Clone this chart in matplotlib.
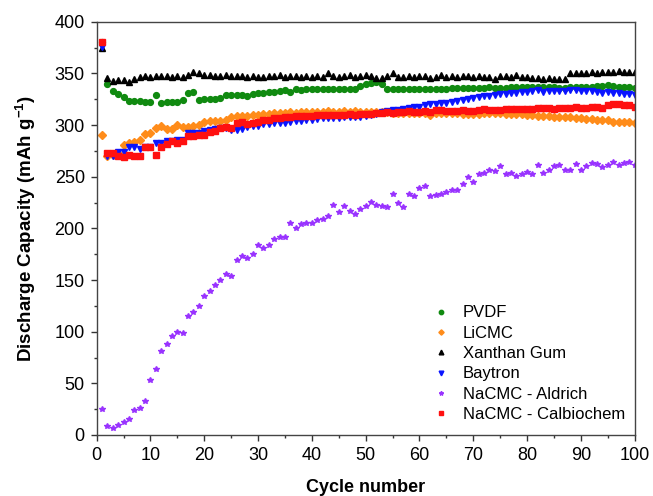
import matplotlib
matplotlib.use("Agg")
import matplotlib.pyplot as plt
from matplotlib.ticker import MultipleLocator

plt.rcParams["font.family"] = ["Liberation Sans", "DejaVu Sans"]
plt.rcParams["mathtext.fontset"] = "custom"
plt.rcParams["mathtext.rm"] = "Liberation Sans"
plt.rcParams["mathtext.bf"] = "Liberation Sans:bold"

cycles = list(range(1, 101))

# values (mAh g-1)
pvdf = [380,
        340, 333, 330, 327, 323, 323, 323, 322, 322,
        329, 321, 322, 322, 322, 324, 331, 332, 324, 325,
        325, 325, 326, 329, 329, 329, 329, 328, 330, 331,
        331, 332, 332, 333, 334, 332, 335, 334, 335, 335,
        335, 335, 335, 335, 335, 335, 335, 335, 338, 340,
        341, 342, 340, 335, 335, 335, 335, 335, 335, 335,
        335, 335, 335, 335, 335, 336, 336, 336, 336, 336,
        336, 336, 337, 336, 336, 336, 337, 337, 337, 337,
        337, 337, 337, 337, 337, 336, 336, 337, 337, 337,
        337, 337, 338, 338, 339, 338, 337, 337, 337, 336]
licmc = [290, 270, 271, 273, 281, 283, 284, 286, 291, 292,
         297, 299, 296, 296, 300, 298, 298, 299, 300, 303,
         304, 304, 304, 305, 308, 309, 309, 309, 310, 310,
         311, 311, 312, 312, 312, 313, 312, 313, 313, 313,
         313, 313, 314, 313, 313, 314, 313, 314, 313, 313,
         313, 313, 313, 313, 312, 312, 312, 312, 312, 312,
         312, 310, 312, 312, 312, 312, 312, 311, 311, 311,
         311, 312, 312, 312, 312, 311, 311, 311, 311, 310,
         310, 309, 309, 309, 308, 308, 308, 308, 307, 307,
         306, 306, 305, 305, 305, 303, 303, 303, 303, 302]
xanthan = [375, 346, 343, 344, 344, 342, 345, 347, 348, 347,
           348, 348, 348, 347, 348, 347, 349, 351, 350, 349,
           349, 348, 348, 349, 348, 348, 348, 347, 348, 347,
           347, 348, 348, 349, 347, 348, 348, 347, 348, 347,
           348, 347, 350, 348, 347, 348, 349, 347, 348, 349,
           348, 346, 346, 348, 350, 347, 347, 348, 347, 348,
           348, 346, 347, 349, 347, 348, 347, 348, 348, 347,
           348, 347, 347, 345, 348, 348, 347, 349, 347, 347,
           346, 346, 345, 346, 345, 345, 345, 350, 350, 350,
           350, 351, 350, 351, 351, 351, 352, 351, 351, 351]
baytron = [376, 270, 270, 274, 274, 279, 279, 277, 279, 279,
           283, 283, 285, 285, 286, 286, 292, 292, 292, 294,
           295, 296, 297, 297, 295, 295, 296, 298, 299, 299,
           301, 301, 302, 302, 302, 303, 304, 304, 305, 305,
           306, 307, 307, 307, 307, 308, 308, 308, 308, 309,
           310, 311, 313, 314, 315, 315, 316, 317, 318, 318,
           319, 320, 320, 321, 321, 322, 323, 324, 325, 326,
           327, 328, 328, 329, 330, 330, 331, 331, 332, 332,
           333, 334, 332, 333, 333, 333, 333, 334, 334, 333,
           333, 333, 332, 331, 332, 331, 331, 330, 330, 329]
aldrich = [25, 9, 7, 9.5, 12.5, 15, 24, 26, 33, 53,
           64, 81, 88, 96, 100, 99, 115, 119, 125, 135,
           139, 145, 150, 156, 154, 169, 173, 171, 175, 184,
           181, 184, 190, 192, 192, 205, 200, 204, 205, 205,
           208, 209, 212, 223, 216, 222, 217, 214, 219, 222,
           226, 223, 222, 221, 233, 225, 221, 233, 231, 239,
           241, 231, 232, 233, 235, 237, 237, 243, 250, 245,
           253, 254, 257, 256, 260, 253, 254, 251, 253, 255,
           253, 261, 254, 257, 260, 261, 257, 257, 262, 257,
           260, 263, 262, 259, 261, 264, 261, 263, 264, 261]
calbiochem = [380, 273, 273, 270, 269, 271, 270, 270, 279, 279,
              271, 279, 282, 285, 283, 285, 289, 289, 290, 290,
              293, 294, 297, 298, 297, 302, 303, 301, 302, 303,
              305, 305, 307, 307, 308, 308, 309, 309, 309, 309,
              310, 310, 310, 310, 310, 310, 311, 310, 311, 311,
              311, 312, 312, 313, 312, 313, 313, 314, 313, 313,
              314, 313, 315, 315, 314, 314, 314, 315, 314, 314,
              315, 316, 315, 315, 315, 316, 316, 316, 316, 316,
              316, 317, 317, 317, 316, 317, 317, 317, 318, 317,
              317, 318, 318, 317, 319, 320, 320, 319, 319, 318]

fig = plt.figure(figsize=(6.53, 4.96), dpi=100)
ax = fig.add_axes([0.148, 0.123, 0.824, 0.833])

ax.plot(cycles, pvdf, "o", color="#108a10", markersize=4.2, label="PVDF")
ax.plot(cycles, licmc, "D", color="#ff8c1a", markersize=3.6, label="LiCMC")
ax.plot(cycles, xanthan, "^", color="black", markersize=4.5, label="Xanthan Gum")
ax.plot(cycles, baytron, "v", color="#0a14ff", markersize=4.5, label="Baytron")
ax.plot(cycles, aldrich, "*", color="#9933ff", markersize=4.2, label="NaCMC - Aldrich")
ax.plot(cycles, calbiochem, "s", color="#ff1010", markersize=3.8, label="NaCMC - Calbiochem")

ax.set_xlim(0, 100)
ax.set_ylim(0, 400)
ax.xaxis.set_major_locator(MultipleLocator(10))
ax.xaxis.set_minor_locator(MultipleLocator(5))
ax.yaxis.set_major_locator(MultipleLocator(50))
ax.yaxis.set_minor_locator(MultipleLocator(25))
ax.tick_params(which="both", direction="out", top=False, right=False,
               color="#333333", width=1.0)
ax.tick_params(which="major", length=4.5, labelsize=13, pad=4)
ax.tick_params(which="minor", length=2.5)
for s in ax.spines.values():
    s.set_color("#444444")
    s.set_linewidth(1.0)

ax.set_xlabel("Cycle number", fontsize=13, fontweight="bold", labelpad=11)
ax.set_ylabel(r"Discharge Capacity (mAh g$^{\mathbf{-1}}$)", fontsize=13.5,
              fontweight="bold", labelpad=12)

ax.legend(loc="upper left", bbox_to_anchor=(0.624, 0.3136), frameon=False,
          fontsize=12, numpoints=1, markerscale=0.75, borderpad=0,
          borderaxespad=0, handlelength=1.0, handletextpad=0.82,
          labelspacing=0.32)

fig.savefig("out.png", dpi=100)
